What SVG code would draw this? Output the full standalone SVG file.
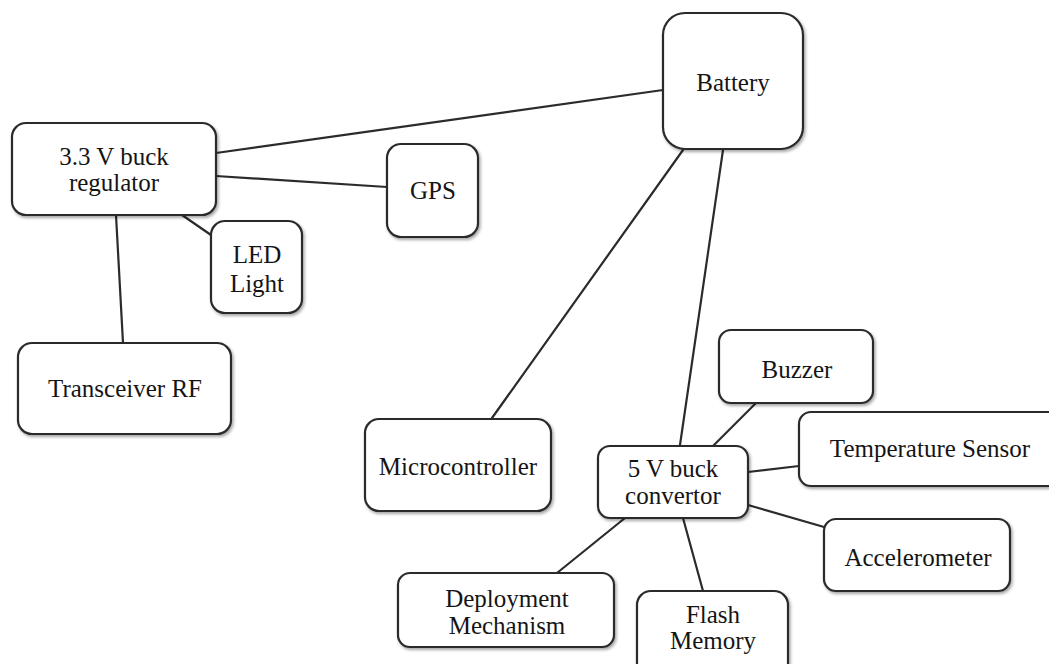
<svg xmlns="http://www.w3.org/2000/svg" width="1049" height="664" viewBox="0 0 1049 664">
<defs>
<filter id="sh" x="-10%" y="-10%" width="130%" height="130%">
<feDropShadow dx="1.5" dy="2" stdDeviation="1.5" flood-color="#000" flood-opacity="0.35"/>
</filter>
<style>
.box{fill:#fff;stroke:#2b2b2b;stroke-width:2.2;filter:url(#sh)}
.lbl{font-family:"Liberation Serif","Times New Roman",serif;font-size:25px;fill:#151515;text-anchor:middle}
.con line{stroke:#2b2b2b;stroke-width:2.2;stroke-linecap:round}
</style>
</defs>
<rect width="1049" height="664" fill="#fff"/>
<g id="connectors" class="con">
<line x1="663" y1="90" x2="216" y2="153"/>
<line x1="216" y1="176" x2="387" y2="187"/>
<line x1="182" y1="215" x2="211" y2="235"/>
<line x1="116" y1="215" x2="123" y2="343"/>
<line x1="683" y1="150" x2="492" y2="418"/>
<line x1="723" y1="150" x2="680" y2="445"/>
<line x1="713" y1="446" x2="756" y2="403"/>
<line x1="748" y1="472" x2="799" y2="466"/>
<line x1="748" y1="505" x2="824" y2="527"/>
<line x1="625" y1="518" x2="557" y2="573"/>
<line x1="683" y1="518" x2="703" y2="591"/>
</g>
<g id="battery"><rect class="box" x="663" y="13" width="140" height="136" rx="22"/><text class="lbl" x="733" y="91">Battery</text></g>
<g id="reg33"><rect class="box" x="12" y="123" width="204" height="92" rx="14"/><text class="lbl" x="114" y="165">3.3 V buck</text><text class="lbl" x="114" y="191">regulator</text></g>
<g id="gps"><rect class="box" x="387" y="144" width="91" height="93" rx="14"/><text class="lbl" x="433" y="199">GPS</text></g>
<g id="led"><rect class="box" x="211" y="221" width="91" height="92" rx="14"/><text class="lbl" x="257" y="263">LED</text><text class="lbl" x="257" y="292">Light</text></g>
<g id="transceiver"><rect class="box" x="18" y="343" width="213" height="91" rx="14"/><text class="lbl" x="125" y="397">Transceiver RF</text></g>
<g id="micro"><rect class="box" x="365" y="419" width="186" height="92" rx="14"/><text class="lbl" x="458" y="475">Microcontroller</text></g>
<g id="conv5"><rect class="box" x="598" y="446" width="150" height="72" rx="12"/><text class="lbl" x="673" y="477">5 V buck</text><text class="lbl" x="673" y="504">convertor</text></g>
<g id="buzzer"><rect class="box" x="719" y="330" width="154" height="73" rx="12"/><text class="lbl" x="797" y="378">Buzzer</text></g>
<g id="temp"><rect class="box" x="799" y="412" width="266" height="74" rx="12"/><text class="lbl" x="930" y="457">Temperature Sensor</text></g>
<g id="accel"><rect class="box" x="824" y="519" width="186" height="72" rx="12"/><text class="lbl" x="918" y="566">Accelerometer</text></g>
<g id="deploy"><rect class="box" x="398" y="573" width="216" height="74" rx="12"/><text class="lbl" x="507" y="607">Deployment</text><text class="lbl" x="507" y="634">Mechanism</text></g>
<g id="flash"><rect class="box" x="637" y="591" width="151" height="99" rx="14"/><text class="lbl" x="713" y="623">Flash</text><text class="lbl" x="713" y="649">Memory</text></g>
</svg>
